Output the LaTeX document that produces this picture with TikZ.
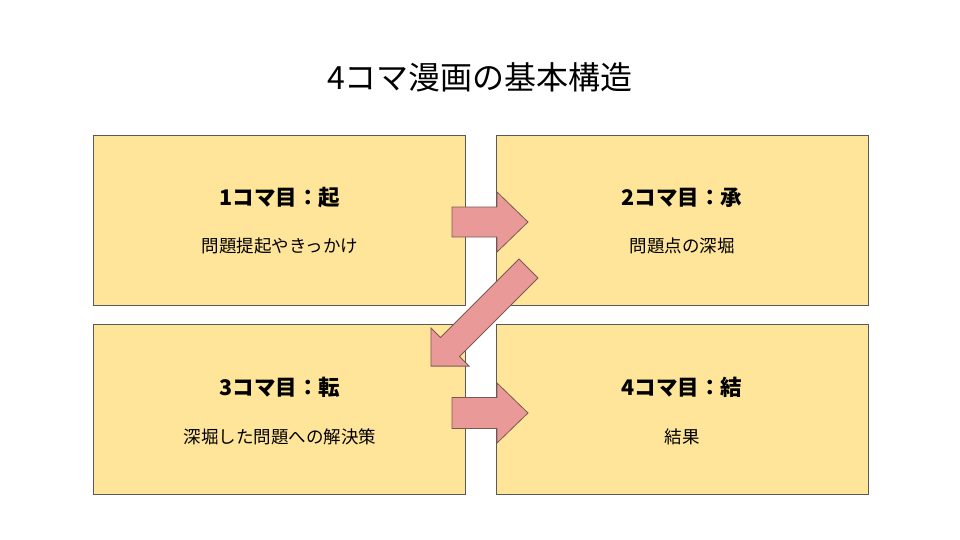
\documentclass[tikz,border=0pt]{standalone}
\usepackage{fontspec}
\setmainfont{Noto Sans CJK JP}
\begin{document}
\begin{tikzpicture}[x=1pt,y=-1pt,
  panel/.style={draw=boxline, line width=0.9pt, fill=boxfill},
  blockarr/.style={draw=arrline, line width=0.8pt, fill=arrfill, line join=miter},
  ttl/.style={font=\fontsize{32}{38}\selectfont},
  head/.style={font=\fontsize{21.5}{26}\selectfont\bfseries},
  sub/.style={font=\fontsize{17.5}{21}\selectfont}]
\definecolor{boxfill}{HTML}{FFE599}
\definecolor{boxline}{HTML}{595959}
\definecolor{arrfill}{HTML}{EA9999}
\definecolor{arrline}{HTML}{7A5A50}
\useasboundingbox[fill=white] (0,0) rectangle (960,540);
\node[ttl] (title) at (480,77) {4コマ漫画の基本構造};
% panels
\draw[panel] (93,135) rectangle (465,305);
\draw[panel] (496,135) rectangle (868,305);
\draw[panel] (93,324) rectangle (465,494);
\draw[panel] (496,324) rectangle (868,494);
\node[head] (h1) at (280,198) {1コマ目：起};
\node[sub]  (s1) at (280,246) {問題提起やきっかけ};
\node[head] (h2) at (682,198) {2コマ目：承};
\node[sub]  (s2) at (682,246) {問題点の深堀};
\node[head] (h3) at (280,387) {3コマ目：転};
\node[sub]  (s3) at (280,437) {深堀した問題への解決策};
\node[head] (h4) at (682,387) {4コマ目：結};
\node[sub]  (s4) at (682,437) {結果};
% block arrows
\draw[blockarr] (452,207) -- (497,207) -- (497,192) -- (528,222) -- (497,252) -- (497,237) -- (452,237) -- cycle;
\draw[blockarr] (519,259) -- (538,278) -- (459.5,356.5) -- (469.1,366.1) -- (430.9,366.1) -- (430.9,327.9) -- (440.5,337.5) -- cycle;
\draw[blockarr] (452,397.5) -- (497,397.5) -- (497,383) -- (528,413) -- (497,443) -- (497,428.5) -- (452,428.5) -- cycle;
\end{tikzpicture}
\end{document}
